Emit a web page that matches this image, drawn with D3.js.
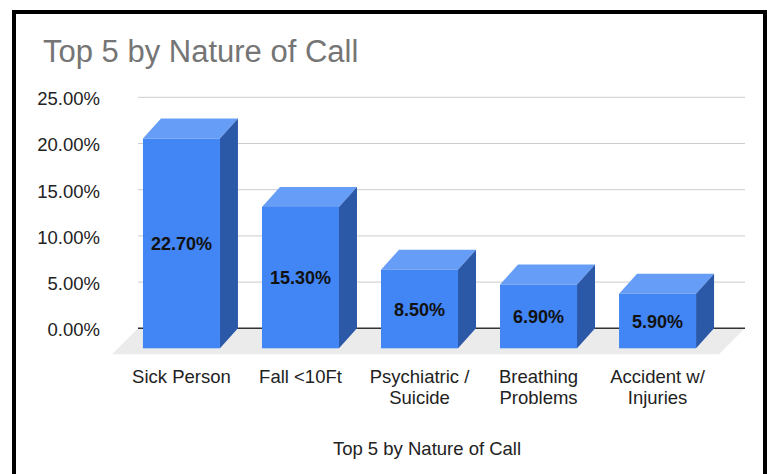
<!DOCTYPE html>
<html>
<head>
<meta charset="utf-8">
<script src="https://cdn.jsdelivr.net/npm/d3@7"></script>
<style>
    body { margin: 0; background: #fff; }
    svg { display: block; font-family: "Liberation Sans", Arial, sans-serif; }
</style>
</head>
<body>
<div id="chart"></div>
<script>
'use strict';

// chart data
const categories = ['Sick Person', 'Fall <10Ft', 'Psychiatric / Suicide', 'Breathing Problems', 'Accident w/ Injuries'];
const categoryLines = [['Sick Person'], ['Fall <10Ft'], ['Psychiatric /', 'Suicide'], ['Breathing', 'Problems'], ['Accident w/', 'Injuries']];
const values = [22.7, 15.3, 8.5, 6.9, 5.9];
const yTicks = [0, 5, 10, 15, 20, 25];
const chartTitle = 'Top 5 by Nature of Call';
const axisTitle = 'Top 5 by Nature of Call';

const width = 767;
const height = 474;

// 3d offset of the back plane vs the front face
const depthX = 18;
const depthY = -20;

const svg = d3.select('#chart').append('svg')
    .attr('width', width)
    .attr('height', height);

svg.append('rect')
    .attr('width', width)
    .attr('height', height)
    .attr('fill', '#fff');

// y is on the back plane, x is on the front face
const y = d3.scaleLinear().domain([0, 25]).range([328.3, 97.3]);
const x = d3.scaleBand()
    .domain(categories)
    .range([122, 717])
    .paddingInner(0.353)
    .paddingOuter(0.176);

const gridLeft = 138;
const gridRight = 745;

// title
svg.append('text')
    .attr('x', 43)
    .attr('y', 62)
    .attr('fill', '#757575')
    .style('font-size', '31px')
    .text(chartTitle);

// floor
const floorDepth = 26;
svg.append('path')
    .attr('d', d3.line()([
        [gridLeft, y(0)], [gridRight, y(0)],
        [gridRight - floorDepth, y(0) + floorDepth], [gridLeft - floorDepth, y(0) + floorDepth]
    ]) + 'Z')
    .attr('fill', '#ebebeb');

// gridlines
svg.append('g')
    .selectAll('line')
    .data(yTicks.filter(d => d > 0))
    .join('line')
    .attr('x1', gridLeft)
    .attr('x2', gridRight)
    .attr('y1', d => y(d))
    .attr('y2', d => y(d))
    .attr('stroke', '#cccccc')
    .attr('stroke-width', 1);

svg.append('line')
    .attr('x1', gridLeft)
    .attr('x2', gridRight)
    .attr('y1', y(0))
    .attr('y2', y(0))
    .attr('stroke', '#333')
    .attr('stroke-width', 1.5);

// y axis labels
const yAxis = d3.axisLeft(y)
    .tickValues(yTicks)
    .tickSize(0)
    .tickPadding(0)
    .tickFormat(d => d.toFixed(2) + '%');

const yg = svg.append('g')
    .attr('transform', 'translate(100,1.5)')
    .call(yAxis);
yg.select('.domain').remove();
yg.selectAll('text')
    .attr('fill', '#222')
    .style('font-size', '18.5px')
    .style('font-family', '"Liberation Sans", Arial, sans-serif');

// bars
const bars = svg.append('g')
    .selectAll('g')
    .data(values.map((v, i) => ({ name: categories[i], value: v })))
    .join('g');

const bw = x.bandwidth();

// front face coordinates (back plane is shifted by the depth)
const fx = d => x(d.name);
const fTop = d => y(d.value) - depthY;
const fBot = () => y(0) - depthY;

bars.append('path')
    .attr('fill', '#669df6')
    .attr('d', d => d3.line()([
        [fx(d), fTop(d)], [fx(d) + bw, fTop(d)],
        [fx(d) + bw + depthX, fTop(d) + depthY], [fx(d) + depthX, fTop(d) + depthY]
    ]) + 'Z');

bars.append('path')
    .attr('fill', '#2c58a8')
    .attr('d', d => d3.line()([
        [fx(d) + bw, fTop(d)], [fx(d) + bw + depthX, fTop(d) + depthY],
        [fx(d) + bw + depthX, fBot() + depthY], [fx(d) + bw, fBot()]
    ]) + 'Z');

bars.append('rect')
    .attr('fill', '#4285f4')
    .attr('x', d => fx(d))
    .attr('y', d => fTop(d))
    .attr('width', bw)
    .attr('height', d => fBot() - fTop(d));

bars.append('text')
    .attr('x', d => fx(d) + bw / 2)
    .attr('y', d => (fTop(d) + fBot()) / 2)
    .attr('dy', '0.36em')
    .attr('text-anchor', 'middle')
    .attr('fill', '#111')
    .style('font-size', '18px')
    .style('font-weight', 'bold')
    .text(d => d.value.toFixed(2) + '%');

// category axis (front plane)
const xAxis = d3.axisBottom(x).tickSize(0).tickPadding(0);

const xg = svg.append('g')
    .attr('transform', 'translate(0,' + 383 + ')')
    .call(xAxis);
xg.select('.domain').remove();
xg.selectAll('.tick text')
    .attr('y', 0)
    .attr('dy', null)
    .attr('fill', '#222')
    .style('font-size', '18.5px')
    .style('font-family', '"Liberation Sans", Arial, sans-serif')
    .text(null)
    .each(function(d) {
        const lines = categoryLines[categories.indexOf(d)];
        d3.select(this).selectAll('tspan')
            .data(lines)
            .join('tspan')
            .attr('x', 0)
            .attr('dy', (l, i) => i === 0 ? 0 : 21)
            .text(l => l);
    });

// axis title
svg.append('text')
    .attr('x', 427)
    .attr('y', 455)
    .attr('text-anchor', 'middle')
    .attr('fill', '#222')
    .style('font-size', '18.5px')
    .text(axisTitle);

// outer frame
svg.append('rect')
    .attr('x', 14)
    .attr('y', 12)
    .attr('width', 751)
    .attr('height', 520)
    .attr('fill', 'none')
    .attr('stroke', '#000')
    .attr('stroke-width', 4);
</script>
</body>
</html>
